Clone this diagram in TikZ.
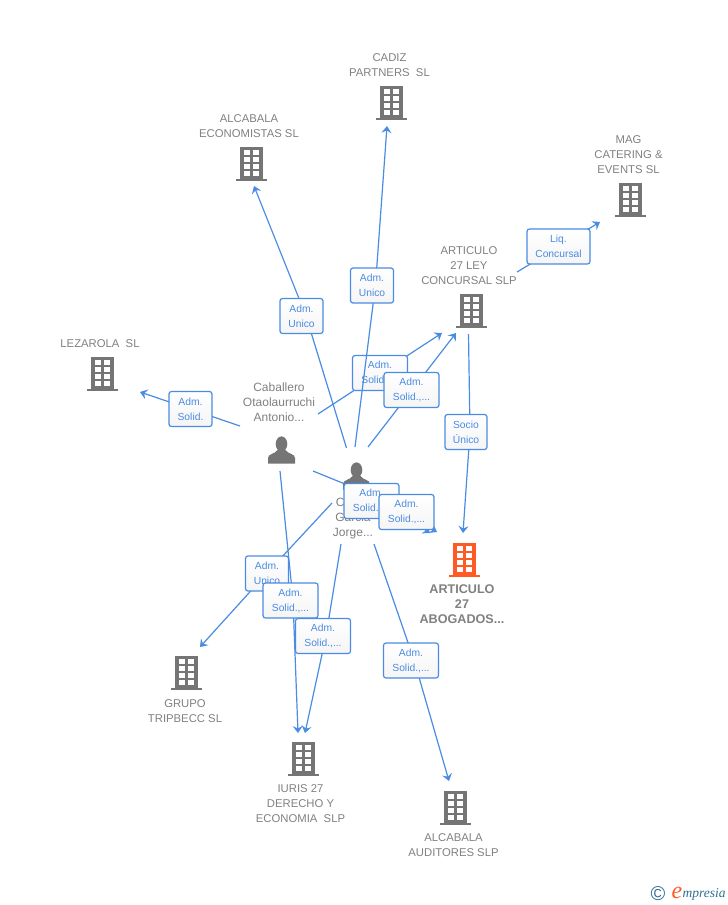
\documentclass[tikz,border=0pt]{standalone}
\usepackage{fontspec}
\setmainfont{Liberation Sans}
\newfontfamily\logofont{Liberation Serif}
\usetikzlibrary{arrows.meta}
\definecolor{linkblue}{HTML}{4A8BE3}
\definecolor{iconblack}{HTML}{757575}
\definecolor{nametext}{HTML}{808080}
\definecolor{mainorange}{HTML}{FF5A26}
\definecolor{logoteal}{HTML}{2F6F8F}
\tikzset{
	link/.style={draw=linkblue,line width=1.2pt,-{Stealth[length=7pt,width=10pt,inset=2.5pt]}},
	tag/.style={draw=linkblue,line width=1.2pt,rounded corners=2.5pt,top color=white,bottom color=black!4,
		text=linkblue,font=\fontsize{10.3}{15}\selectfont,align=center,minimum height=35pt,inner sep=0pt},
	entity/.style={text=nametext,font=\fontsize{11.3}{15}\selectfont,align=center,inner sep=0pt},
	mainentity/.style={text=nametext,font=\bfseries\fontsize{12.6}{15}\selectfont,align=center,inner sep=0pt},
	building/.pic={
		\fill[pic actions] (-11.5,-17) rectangle (11.5,14.5);
		\fill[pic actions] (-15.5,14.5) rectangle (15.5,17);
		\foreach \row in {-14.5,-7.5,-0.5,6.5}{
			\fill[white] (-7.5,\row) rectangle (-1.5,\row+5.3);
			\fill[white] (1.5,\row) rectangle (7.5,\row+5.3);
		}
	},
	person/.pic={
		\fill[pic actions] (0,-6) ellipse (5.8 and 7.6);
		\fill[pic actions] (-13.5,13.5) -- (-13.5,8) .. controls (-13.5,3.5) and (-6,4) .. (-4,0)
			-- (4,0) .. controls (6,4) and (13.5,3.5) .. (13.5,8) -- (13.5,13.5) -- cycle;
	},
}
\begin{document}
\begin{tikzpicture}[x=1pt,y=-1pt]
	\useasboundingbox (0,0) rectangle (728,905);

	% companies and people
	\pic[fill=iconblack] at (391.5,103) {building};
	\pic[fill=iconblack] at (251.5,164) {building};
	\pic[fill=iconblack] at (630.5,200) {building};
	\pic[fill=iconblack] at (471,311) {building};
	\pic[fill=iconblack] at (102.5,374) {building};
	\pic[fill=mainorange] at (464.5,560) {building};
	\pic[fill=iconblack] at (186.5,673) {building};
	\pic[fill=iconblack] at (303,759) {building};
	\pic[fill=iconblack] at (455.5,808) {building};
	\pic[fill=iconblack] at (281.5,450) {person};
	\pic[fill=iconblack] at (356.5,476) {person};

	\node[entity] (cadiz) at (389.5,65.5) {CADIZ\\PARTNERS~~SL};
	\node[entity] (economistas) at (249,126.5) {ALCABALA\\ECONOMISTAS SL};
	\node[entity] (mag) at (628.5,155) {MAG\\CATERING \&\\EVENTS SL};
	\node[entity] (concursal) at (469,265.5) {ARTICULO\\27 LEY\\CONCURSAL SLP};
	\node[entity] (lezarola) at (100,343.5) {LEZAROLA~~SL};
	\node[mainentity] (abogados) at (462,604) {ARTICULO\\27\\ABOGADOS...};
	\node[entity] (tripbecc) at (185,711) {GRUPO\\TRIPBECC SL};
	\node[entity] (iuris) at (300.5,803.5) {IURIS 27\\DERECHO Y\\ECONOMIA~~SLP};
	\node[entity] (auditores) at (453.5,845.5) {ALCABALA\\AUDITORES SLP};
	\node[entity,font=\fontsize{12}{15}\selectfont] (caballero) at (279,402.5) {Caballero\\Otaolaurruchi\\Antonio...};
	\node[entity,font=\fontsize{12}{15}\selectfont] (garcia) at (353,518.5) {C\phantom{asas}\\Garcia\\Jorge...};

	% free ends of the links
	\coordinate (c1) at (240,426);
	\coordinate (c2) at (318,414);
	\coordinate (c3) at (313,471);
	\coordinate (c4) at (280,471);
	\coordinate (g1) at (346.5,448);
	\coordinate (g2) at (355,447);
	\coordinate (g3) at (368,447);
	\coordinate (g4) at (380,500);
	\coordinate (g5) at (332,503);
	\coordinate (g6) at (341,544);
	\coordinate (g7) at (374,544);
	\coordinate (s1) at (468.5,334);
	\coordinate (s2) at (517,272);
	\coordinate (t1) at (140,392);
	\coordinate (t2) at (254,186);
	\coordinate (t3) at (387,126);
	\coordinate (t4) at (442,333);
	\coordinate (t5) at (456,333);
	\coordinate (t6) at (463,533);
	\coordinate (t7) at (430,533);
	\coordinate (t8) at (437,532);
	\coordinate (t9) at (200,647);
	\coordinate (t10) at (298,733);
	\coordinate (t11) at (305,733);
	\coordinate (t12) at (449,781);
	\coordinate (t13) at (600,222);

	% links with their tags, in stacking order
	\draw[link] (c1) -- (t1);
	\node[tag,minimum width=43pt] (tag1) at (190.5,409) {Adm.\\Solid.};
	\draw[link] (g1) -- (306,316) -- (t2);
	\node[tag,minimum width=43pt] (tag2) at (301.5,316) {Adm.\\Unico};
	\draw[link] (c2) -- (t4);
	\node[tag,minimum width=55pt] (tag3) at (380,373) {Adm.\\Solid.,...};
	\draw[link] (g2) -- (375.5,285) -- (t3);
	\node[tag,minimum width=43pt] (tag4) at (372,285.5) {Adm.\\Unico};
	\draw[link] (g3) -- (412,390) -- (t5);
	\node[tag,minimum width=55pt] (tag5) at (411.5,390) {Adm.\\Solid.,...};
	\draw[link] (s1) -- (470,432) -- (t6);
	\node[tag,minimum width=42pt] (tag6) at (466,432) {Socio\\Único};
	\draw[link] (c3) -- (372,495) -- (t7);
	\node[tag,minimum width=55pt] (tag7) at (371.5,501) {Adm.\\Solid.,...};
	\draw[link] (g4) -- (t8);
	\node[tag,minimum width=55pt] (tag8) at (406.5,512) {Adm.\\Solid.,...};
	\draw[link] (g5) -- (267,573) -- (t9);
	\node[tag,minimum width=43pt] (tag9) at (267,573.5) {Adm.\\Unico};
	\draw[link] (c4) -- (293,600) -- (t10);
	\node[tag,minimum width=55pt] (tag10) at (290.5,600.5) {Adm.\\Solid.,...};
	\draw[link] (g6) -- (326,636) -- (t11);
	\node[tag,minimum width=55pt] (tag11) at (323,636) {Adm.\\Solid.,...};
	\draw[link] (g7) -- (414,660) -- (t12);
	\node[tag,minimum width=55pt] (tag12) at (411,660.5) {Adm.\\Solid.,...};
	\draw[link] (s2) -- (t13);
	\node[tag,minimum width=63pt] (tag13) at (558.5,246.5) {Liq.\\Concursal};

	% logo
	\node[text=logoteal,font=\fontsize{20}{20}\selectfont,inner sep=0pt] (copy) at (658,893.5) {©};
	\node[text=mainorange,font=\logofont\itshape\fontsize{24}{24}\selectfont,inner sep=0pt] (logoe) at (677,893) {e};
	\node[text=logoteal,font=\logofont\itshape\fontsize{13.5}{14}\selectfont,inner sep=0pt,anchor=west] (logo) at (682.5,894) {mpresia};
\end{tikzpicture}
\end{document}
